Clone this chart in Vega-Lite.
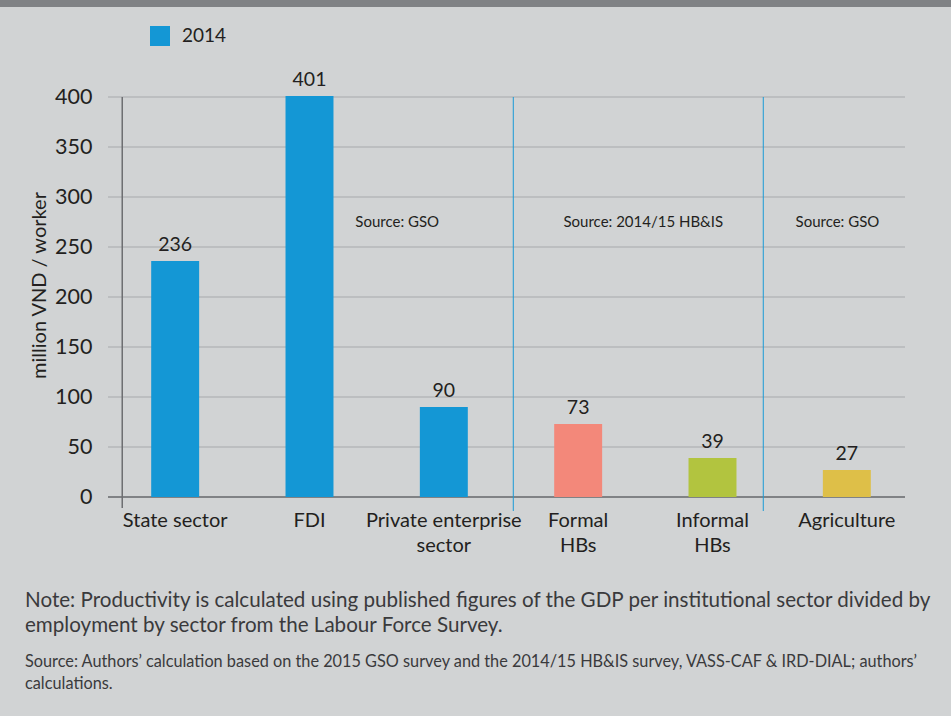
{
  "$schema": "https://vega.github.io/schema/vega-lite/v6.json",
  "width": 806,
  "height": 400,
  "autosize": {"type": "none"},
  "padding": {"left": 108, "top": 97, "right": 37, "bottom": 219},
  "background": "#d1d3d4",
  "config": {
    "font": "Lato",
    "view": {"stroke": null},
    "axis": {"labelFont": "Lato", "titleFont": "Lato"},
    "text": {"font": "Lato"}
  },
  "title": {
    "text": ["Note: Productivity is calculated using published figures of the GDP per institutional sector divided by", "employment by sector from the Labour Force Survey."],
    "subtitle": ["Source: Authors’ calculation based on the 2015 GSO survey and the 2014/15 HB&IS survey, VASS-CAF & IRD-DIAL; authors’", "calculations."],
    "orient": "bottom",
    "anchor": "start",
    "frame": "group",
    "dx": -83,
    "offset": 36,
    "font": "Lato",
    "fontSize": 20.6,
    "fontWeight": "normal",
    "lineHeight": 25,
    "color": "#3a3a3c",
    "subtitleFont": "Lato",
    "subtitleFontSize": 16.3,
    "subtitleLineHeight": 22,
    "subtitleColor": "#3a3a3c",
    "subtitlePadding": 17
  },
  "data": {
    "values": [
      {"sector": "State sector", "value": 236, "group": "2014"},
      {"sector": "FDI", "value": 401, "group": "2014"},
      {"sector": "Private enterprise sector", "value": 90, "group": "2014"},
      {"sector": "Formal HBs", "value": 73, "group": "Formal HBs"},
      {"sector": "Informal HBs", "value": 39, "group": "Informal HBs"},
      {"sector": "Agriculture", "value": 27, "group": "Agriculture"}
    ]
  },
  "resolve": {"scale": {"x": "independent"}, "axis": {"x": "independent"}},
  "layer": [
    {
      "data": {"values": [{}]},
      "mark": {"type": "rect", "color": "#808285"},
      "encoding": {
        "x": {"datum": -0.9, "type": "quantitative", "scale": {"domain": [0, 6], "nice": false}, "axis": null},
        "x2": {"datum": 6.4},
        "y": {"datum": 490, "type": "quantitative"},
        "y2": {"datum": 520}
      }
    },
    {
      "data": {"values": [{"v": 50}, {"v": 100}, {"v": 150}, {"v": 200}, {"v": 250}, {"v": 300}, {"v": 350}, {"v": 400}]},
      "mark": {"type": "rule", "color": "#bcbec0", "strokeWidth": 2},
      "encoding": {
        "x": {"datum": 0, "type": "quantitative", "scale": {"domain": [0, 6], "nice": false}, "axis": null},
        "x2": {"datum": 5.933},
        "y": {"field": "v", "type": "quantitative"}
      }
    },
    {
      "data": {"values": [{}]},
      "mark": {"type": "rule", "color": "#808285", "strokeWidth": 2},
      "encoding": {
        "x": {"datum": 0, "type": "quantitative", "scale": {"domain": [0, 6], "nice": false}, "axis": null},
        "x2": {"datum": 5.933},
        "y": {"datum": 0, "type": "quantitative"}
      }
    },
    {
      "mark": {"type": "bar"},
      "encoding": {
        "x": {
          "field": "sector", "type": "nominal", "sort": null,
          "scale": {"paddingInner": 0.643, "paddingOuter": 0.3215},
          "axis": {
            "title": null, "domain": false, "ticks": false, "labelAngle": 0,
            "labelPadding": 13, "labelFontSize": 20, "labelColor": "#231f20",
            "labelLineHeight": 25, "labelBaseline": "top", "labelOverlap": false, "labelLimit": 300,
            "labelExpr": "datum.value == 'Private enterprise sector' ? ['Private enterprise', 'sector'] : datum.value == 'Formal HBs' ? ['Formal', 'HBs'] : datum.value == 'Informal HBs' ? ['Informal', 'HBs'] : datum.value"
          }
        },
        "y": {
          "field": "value", "type": "quantitative",
          "scale": {"domain": [0, 400], "nice": false},
          "axis": {
            "values": [0, 50, 100, 150, 200, 250, 300, 350, 400],
            "grid": false, "domain": false, "ticks": false,
            "labelPadding": 16, "labelFontSize": 21.5, "labelColor": "#231f20",
            "title": "million VND / worker", "titleFontSize": 20, "titleFontWeight": "normal",
            "titleColor": "#231f20", "titlePadding": 5, "titleY": 188
          }
        },
        "color": {
          "field": "group", "type": "nominal",
          "scale": {"domain": ["2014", "Formal HBs", "Informal HBs", "Agriculture"], "range": ["#1497d5", "#f3887a", "#b2c43f", "#debf48"]},
          "legend": {
            "values": ["2014"], "title": null, "orient": "none", "legendX": 42, "legendY": -71,
            "symbolType": "square", "symbolSize": 400, "symbolStrokeWidth": 0, "labelOffset": 12,
            "labelFontSize": 19, "labelColor": "#231f20", "labelFont": "Lato"
          }
        }
      }
    },
    {
      "mark": {"type": "text", "baseline": "bottom", "dy": -6, "fontSize": 19.5, "color": "#231f20"},
      "encoding": {
        "x": {"field": "sector", "type": "nominal", "sort": null, "axis": null},
        "y": {"field": "value", "type": "quantitative"},
        "text": {"field": "value", "type": "quantitative"}
      }
    },
    {
      "data": {"values": [{}]},
      "mark": {"type": "rule", "color": "#1a9ad6", "strokeWidth": 1},
      "encoding": {
        "x": {"datum": 3.017, "type": "quantitative", "scale": {"domain": [0, 6], "nice": false}, "axis": null},
        "y": {"datum": 400, "type": "quantitative"},
        "y2": {"datum": -14}
      }
    },
    {
      "data": {"values": [{}]},
      "mark": {"type": "rule", "color": "#1a9ad6", "strokeWidth": 1},
      "encoding": {
        "x": {"datum": 4.878, "type": "quantitative", "scale": {"domain": [0, 6], "nice": false}, "axis": null},
        "y": {"datum": 400, "type": "quantitative"},
        "y2": {"datum": -14}
      }
    },
    {
      "data": {"values": [{}]},
      "mark": {"type": "rule", "color": "#6d6e71", "strokeWidth": 1.5},
      "encoding": {
        "x": {"datum": 0.106, "type": "quantitative", "scale": {"domain": [0, 6], "nice": false}, "axis": null},
        "y": {"datum": 400, "type": "quantitative"},
        "y2": {"datum": -11}
      }
    },
    {
      "data": {"values": [{}]},
      "mark": {"type": "text", "fontSize": 15, "color": "#231f20", "align": "center", "baseline": "middle"},
      "encoding": {
        "x": {"datum": 2.153, "type": "quantitative", "scale": {"domain": [0, 6], "nice": false}, "axis": null},
        "y": {"datum": 275, "type": "quantitative"},
        "text": {"value": "Source: GSO"}
      }
    },
    {
      "data": {"values": [{}]},
      "mark": {"type": "text", "fontSize": 15, "color": "#231f20", "align": "center", "baseline": "middle"},
      "encoding": {
        "x": {"datum": 3.985, "type": "quantitative", "scale": {"domain": [0, 6], "nice": false}, "axis": null},
        "y": {"datum": 275, "type": "quantitative"},
        "text": {"value": "Source: 2014/15 HB&IS"}
      }
    },
    {
      "data": {"values": [{}]},
      "mark": {"type": "text", "fontSize": 15, "color": "#231f20", "align": "center", "baseline": "middle"},
      "encoding": {
        "x": {"datum": 5.43, "type": "quantitative", "scale": {"domain": [0, 6], "nice": false}, "axis": null},
        "y": {"datum": 275, "type": "quantitative"},
        "text": {"value": "Source: GSO"}
      }
    }
  ]
}
